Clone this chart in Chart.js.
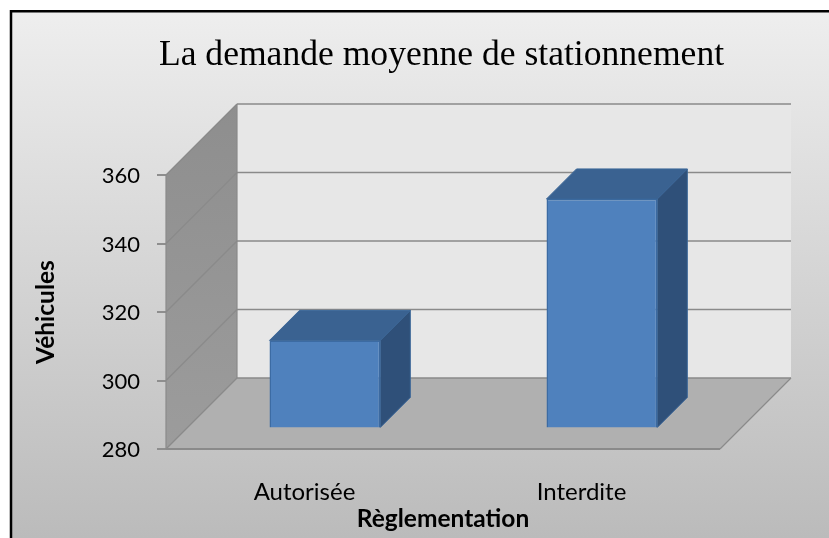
<!DOCTYPE html>
<html lang="fr">
<head>
<meta charset="utf-8">
<title>La demande moyenne de stationnement</title>
<style>
html,body{margin:0;padding:0;background:#fff;overflow:hidden}
canvas{display:block}
</style>
<script src="https://cdn.jsdelivr.net/npm/chart.js@4/dist/chart.umd.min.js"></script>
</head>
<body>
<canvas id="c" width="829" height="538"></canvas>
<script>
const categories = ["Autorisée", "Interdite"];
const vehicules = [305.7, 347];
const yMin = 280;
const yMax = 360;
const yStep = 20;
const chartTitle = "La demande moyenne de stationnement";
const xTitle = "Règlementation";
const yTitle = "Véhicules";

const WALL = 71;      // depth of the 3D box
const BAR_OFFSET_X = 20.4; // distance of bars from front plane
const BAR_OFFSET_Y = 20.6;
const BAR_DEPTH = 30;

const frame3d = {
  id: 'frame3d',
  afterLayout(chart) {
    // Title centred above the plot, not the canvas
    const a = chart.chartArea, t = chart.titleBlock;
    const c = (a.left + a.right) / 2 - 1.5;
    t.left = c - 400; t.right = c + 400;
  },
  beforeDraw(chart) {
    const ctx = chart.ctx, W = chart.width, H = chart.height;
    ctx.save();
    ctx.fillStyle = '#fff';
    ctx.fillRect(0, 0, W, H);
    const g = ctx.createLinearGradient(0, 11, 0, H);
    g.addColorStop(0, '#eeeeee');
    g.addColorStop(1, '#bbbbbb');
    ctx.fillStyle = g;
    ctx.fillRect(11, 11, W, H);
    ctx.strokeStyle = '#000';
    ctx.lineWidth = 2.5;
    ctx.beginPath();
    ctx.moveTo(11, H + 2);
    ctx.lineTo(11, 11.2);
    ctx.lineTo(W + 2, 11.2);
    ctx.stroke();
    ctx.restore();
  },
  beforeDatasetsDraw(chart) {
    const ctx = chart.ctx, a = chart.chartArea, y = chart.scales.y;
    const L = a.left, R = a.right, T = y.getPixelForValue(yMax), B = y.getPixelForValue(yMin), d = WALL;
    ctx.save();
    // back wall
    ctx.fillStyle = '#e7e7e7';
    ctx.fillRect(L + d, T - d, R - L, B - T);
    // side wall
    const sg = ctx.createLinearGradient(0, T - d, 0, B);
    sg.addColorStop(0, '#8e8e8e');
    sg.addColorStop(1, '#9c9c9c');
    ctx.fillStyle = sg;
    ctx.beginPath();
    ctx.moveTo(L, T); ctx.lineTo(L + d, T - d); ctx.lineTo(L + d, B - d); ctx.lineTo(L, B);
    ctx.closePath(); ctx.fill();
    // floor
    ctx.fillStyle = '#b0b0b0';
    ctx.beginPath();
    ctx.moveTo(L, B); ctx.lineTo(L + d, B - d); ctx.lineTo(R + d, B - d); ctx.lineTo(R, B);
    ctx.closePath(); ctx.fill();
    // grid lines: side wall + back wall, one per tick
    ctx.strokeStyle = '#8a8a8a';
    y.ticks.forEach(t => {
      const py = y.getPixelForValue(t.value);
      ctx.lineWidth = 1.2;
      ctx.beginPath(); ctx.moveTo(L, py); ctx.lineTo(L + d, py - d); ctx.stroke();
      ctx.lineWidth = 1.6;
      ctx.beginPath(); ctx.moveTo(L + d, py - d); ctx.lineTo(R + d, py - d); ctx.stroke();
    });
    // outline edges
    ctx.lineWidth = 1.2;
    ctx.beginPath();
    ctx.moveTo(L + d, T - d); ctx.lineTo(L + d, B - d);
    ctx.moveTo(L, T); ctx.lineTo(L, B);
    ctx.moveTo(R, B); ctx.lineTo(R + d, B - d);
    ctx.stroke();
    ctx.lineWidth = 2;
    ctx.beginPath(); ctx.moveTo(L, B); ctx.lineTo(R, B); ctx.stroke();
    ctx.restore();
  },
  beforeDatasetDraw(chart) {
    chart.ctx.save();
    chart.ctx.translate(BAR_OFFSET_X, -BAR_OFFSET_Y);
  },
  afterDatasetDraw(chart, args) {
    const ctx = chart.ctx, k = BAR_DEPTH;
    chart.getDatasetMeta(args.index).data.forEach(b => {
      const l = b.x - b.width / 2, r = b.x + b.width / 2, t = b.y, bt = b.base;
      ctx.lineWidth = 1;
      ctx.strokeStyle = '#3a6698';
      ctx.fillStyle = '#3a6291';
      ctx.beginPath();
      ctx.moveTo(l, t); ctx.lineTo(l + k, t - k); ctx.lineTo(r + k, t - k); ctx.lineTo(r, t);
      ctx.closePath(); ctx.fill(); ctx.stroke();
      ctx.fillStyle = '#2f5079';
      ctx.beginPath();
      ctx.moveTo(r, t); ctx.lineTo(r + k, t - k); ctx.lineTo(r + k, bt - k); ctx.lineTo(r, bt);
      ctx.closePath(); ctx.fill(); ctx.stroke();
    });
    ctx.restore();
  }
};

new Chart(document.getElementById('c'), {
  type: 'bar',
  data: {
    labels: categories,
    datasets: [{
      data: vehicules,
      base: yMin,
      clip: false,
      backgroundColor: '#4f81bd',
      borderColor: '#3c6ba3',
      borderWidth: 1.5,
      barPercentage: 0.4,
      categoryPercentage: 1
    }]
  },
  options: {
    responsive: false,
    animation: false,
    layout: { padding: { left: 0, right: 109, top: 0, bottom: 0 } },
    plugins: {
      legend: { display: false },
      tooltip: { enabled: false },
      title: {
        display: true,
        text: chartTitle,
        color: '#000',
        font: { family: '"Liberation Serif"', size: 35.6, weight: 'normal', lineHeight: 1.2 },
        padding: { top: 34, bottom: 98.3 }
      }
    },
    scales: {
      x: {
        afterFit(s) { s.height = 89; },
        grid: { display: false },
        border: { display: false },
        ticks: { color: '#000', padding: 21, maxRotation: 0, font: { family: 'Lato', size: 24 } },
        title: {
          display: true,
          text: xTitle,
          color: '#000',
          font: { family: 'Lato', size: 24.5, weight: 'bold', lineHeight: 1.2 },
          padding: { top: 0, bottom: 4 }
        }
      },
      y: {
        min: yMin,
        max: yMax,
        afterFit(s) { s.width = 166; },
        border: { display: false },
        grid: { drawOnChartArea: false, drawTicks: true, tickLength: 9, color: '#8e8e8e', lineWidth: 2 },
        ticks: { stepSize: yStep, color: '#000', padding: 17, labelOffset: 1, font: { family: 'Lato', size: 22 } },
        title: {
          display: true,
          text: yTitle,
          color: '#000',
          font: { family: 'Lato', size: 24.5, weight: 'bold', lineHeight: 1.2 },
          padding: { top: 31, bottom: 0 }
        }
      }
    }
  },
  plugins: [frame3d]
});
</script>
</body>
</html>
